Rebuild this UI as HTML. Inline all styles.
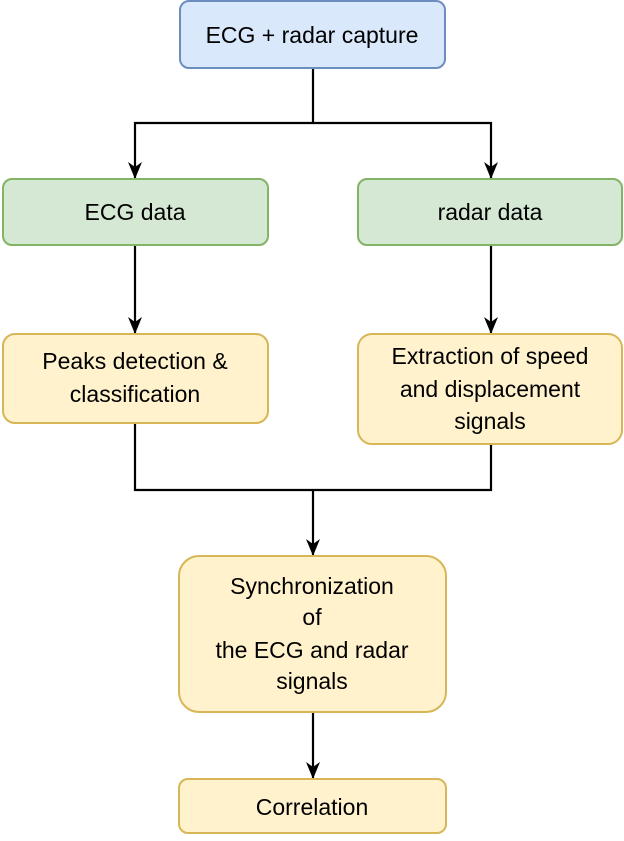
<!DOCTYPE html>
<html><head><meta charset="utf-8"><style>
body{margin:0;background:#fff;width:624px;height:836px;overflow:hidden}
svg text{font-family:"Liberation Sans",Arial,sans-serif;font-size:23px;fill:#000;text-anchor:middle}
</style></head><body>
<svg width="624" height="836" viewBox="0 0 624 836">
<defs><marker id="a" markerWidth="18" markerHeight="18" refX="16" refY="9" orient="auto" markerUnits="userSpaceOnUse">
<path d="M0,2 L17,9 L0,16 L5,9 Z" fill="#000"/></marker></defs>
<g stroke="#000" stroke-width="2.2" fill="none">
<path d="M313,69 V123 H135 V178" marker-end="url(#a)"/>
<path d="M313,123 H491 V178" marker-end="url(#a)"/>
<path d="M135,246 V333" marker-end="url(#a)"/>
<path d="M491,246 V333" marker-end="url(#a)"/>
<path d="M135,424 V490 H491 V445"/>
<path d="M313,490 V555" marker-end="url(#a)"/>
<path d="M313,713 V778" marker-end="url(#a)"/>
</g>
<rect x="180" y="1" width="265" height="67" rx="9" fill="#dae8fc" stroke="#6c8ebf" stroke-width="2"/>
<rect x="3" y="179" width="265" height="66" rx="9" fill="#d5e8d4" stroke="#82b366" stroke-width="2"/>
<rect x="358" y="179" width="264" height="66" rx="9" fill="#d5e8d4" stroke="#82b366" stroke-width="2"/>
<rect x="3" y="334" width="265" height="89" rx="12" fill="#fff2cc" stroke="#d6b656" stroke-width="2"/>
<rect x="358" y="334" width="264" height="110" rx="14" fill="#fff2cc" stroke="#d6b656" stroke-width="2"/>
<rect x="179" y="556" width="267" height="156" rx="20" fill="#fff2cc" stroke="#d6b656" stroke-width="2"/>
<rect x="179" y="779" width="267" height="54" rx="9" fill="#fff2cc" stroke="#d6b656" stroke-width="2"/>
<text x="312" y="43">ECG + radar capture</text>
<text x="135" y="220">ECG data</text>
<text x="490" y="220">radar data</text>
<text x="135" y="369">Peaks detection &amp;</text>
<text x="135" y="402">classification</text>
<text x="490" y="364">Extraction of speed</text>
<text x="490" y="397">and displacement</text>
<text x="490" y="429">signals</text>
<text x="312" y="594">Synchronization</text>
<text x="312" y="625">of</text>
<text x="312" y="658">the ECG and radar</text>
<text x="312" y="689">signals</text>
<text x="312" y="815">Correlation</text>
</svg>
</body></html>
